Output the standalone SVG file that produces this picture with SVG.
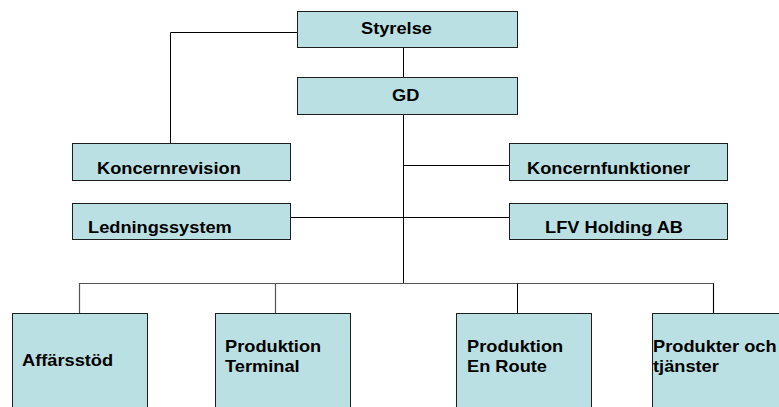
<svg xmlns="http://www.w3.org/2000/svg" width="779" height="407" viewBox="0 0 779 407">
  <style>
    .box { fill: #bae0e3; stroke: #1e1e1e; stroke-width: 1; }
    .lbl { font-family: "Liberation Sans", Arial, sans-serif; font-weight: bold; font-size: 16px; fill: #000; }
    .ln { fill: none; stroke: #000; stroke-width: 1; }
    .bus { fill: none; stroke: #555; stroke-width: 1.2; }
  </style>
  <rect width="779" height="407" fill="#fff"/>

  <!-- connectors -->
  <g id="connectors">
    <path class="ln" d="M297.5 32.5 H170.5 V143"/>
    <path class="ln" d="M403.5 47 V77"/>
    <path class="ln" d="M403.5 114 V283"/>
    <path class="ln" d="M403.5 165.5 H509"/>
    <path class="ln" d="M290 217.5 H509"/>
    <path class="bus" d="M79.5 313 V283.5 H713.5 V313"/>
    <path class="bus" d="M275.5 283.5 V313"/>
    <path class="ln" d="M517.5 283.5 V313"/>
    <path class="ln" d="M713.5 283.5 V313"/>
  </g>

  <g id="styrelse">
    <rect class="box" x="297.5" y="11.5" width="220" height="36"/>
    <text class="lbl" transform="translate(361 34) scale(1.14 1)">Styrelse</text>
  </g>
  <g id="gd">
    <rect class="box" x="297.5" y="77.5" width="220" height="37"/>
    <text class="lbl" transform="translate(392 101) scale(1.14 1)">GD</text>
  </g>
  <g id="koncernrevision">
    <rect class="box" x="72.5" y="143.5" width="218" height="37"/>
    <text class="lbl" transform="translate(97 173.5) scale(1.14 1)">Koncernrevision</text>
  </g>
  <g id="ledningssystem">
    <rect class="box" x="72.5" y="203.5" width="218" height="36"/>
    <text class="lbl" transform="translate(88 232.5) scale(1.14 1)">Ledningssystem</text>
  </g>
  <g id="koncernfunktioner">
    <rect class="box" x="509.5" y="143.5" width="218" height="37"/>
    <text class="lbl" transform="translate(527 173.5) scale(1.14 1)">Koncernfunktioner</text>
  </g>
  <g id="lfv-holding">
    <rect class="box" x="509.5" y="203.5" width="218" height="36"/>
    <text class="lbl" transform="translate(545 232.5) scale(1.14 1)">LFV Holding AB</text>
  </g>
  <g id="affarsstod">
    <rect class="box" x="12.5" y="313.5" width="135" height="110"/>
    <text class="lbl" transform="translate(22 366) scale(1.14 1)">Affärsstöd</text>
  </g>
  <g id="produktion-terminal">
    <rect class="box" x="215.5" y="313.5" width="135" height="110"/>
    <text class="lbl" transform="translate(225 352) scale(1.14 1)">Produktion</text>
    <text class="lbl" transform="translate(225 372) scale(1.14 1)">Terminal</text>
  </g>
  <g id="produktion-en-route">
    <rect class="box" x="456.5" y="313.5" width="135" height="110"/>
    <text class="lbl" transform="translate(467 352) scale(1.14 1)">Produktion</text>
    <text class="lbl" transform="translate(467 372) scale(1.14 1)">En Route</text>
  </g>
  <g id="produkter-tjanster">
    <rect class="box" x="652.5" y="313.5" width="135" height="110"/>
    <text class="lbl" transform="translate(653 352) scale(1.14 1)">Produkter och</text>
    <text class="lbl" transform="translate(653 372) scale(1.14 1)">tjänster</text>
  </g>
</svg>
